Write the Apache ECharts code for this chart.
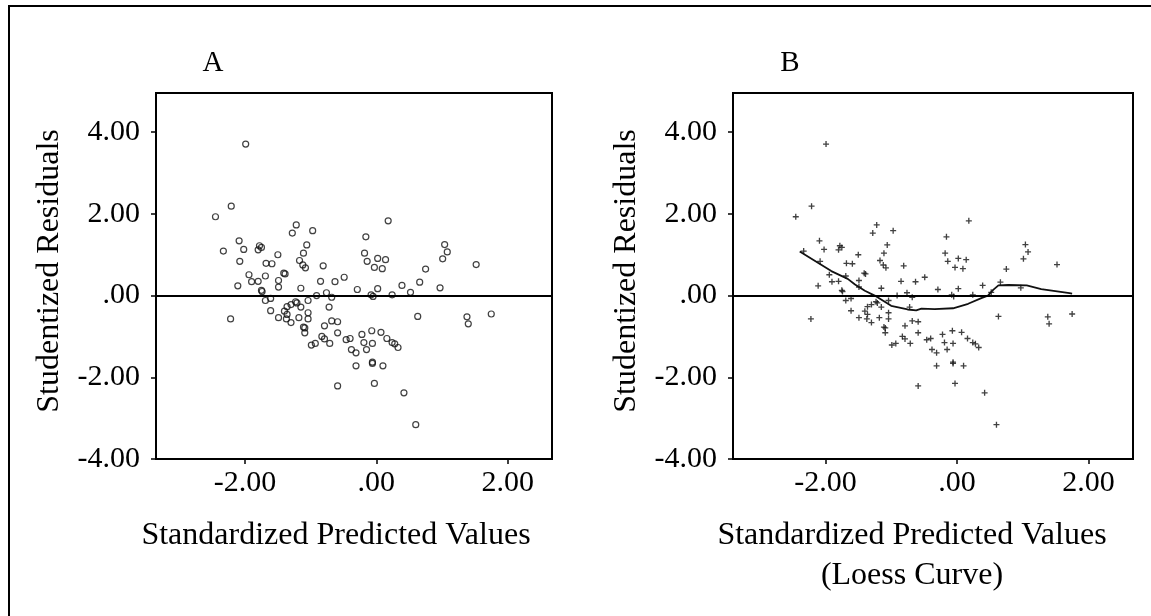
<!DOCTYPE html>
<html>
<head>
<meta charset="utf-8">
<script src="https://cdn.jsdelivr.net/npm/echarts@6/dist/echarts.min.js"></script>
<style>
  html, body { margin: 0; padding: 0; background: #fff; }
  #chart { width: 1151px; height: 616px; }
</style>
</head>
<body>
<div id="chart"></div>
<script>
// Standardized predicted values (x) and studentized residuals (y), one entry per case
const predicted = [
  -2.21, -2.45, -1.22, -1.28, -0.97, -2.09, -2.33, -2.02, -1.78, -1.75,
  -1.80, -1.06, -1.11, -1.50, -2.08, -1.68, -1.59, -1.17, -1.12, -1.08,
  -0.81, -1.94, -1.69, -1.41, -1.39, -1.90, -1.80, -1.49, -1.49, -2.11,
  -1.15, -0.85, -0.63, -1.75, -1.74, -0.91, -0.76, -0.68, -1.69, -1.61,
  -1.04, -1.23, -1.21, -1.30, -1.36, -1.15, -0.72, -1.61, -1.40, -1.36,
  -1.04, -1.49, -1.37, -1.18, -1.04, -1.30, -2.22, -0.68, -0.59, -1.11,
  -1.09, -0.79, -1.09, -0.83, -0.79, -0.71, -0.99, -0.93, -0.59, -0.59,
   0.18, -0.16, -0.18, -0.14,  0.02,  0.14, -0.03,  0.09,  1.04,  1.08,
   1.01,  0.75,  1.52, -0.49, -0.29,  0.02,  0.39,  0.66,  0.97,  0.52,
   0.24, -0.08, -0.05,  0.63,  1.38,  1.40, -0.46, -0.40, -0.22, -0.07,
   0.07,  0.16,  0.24,  0.28,  0.33, -0.19, -0.06, -0.38, -0.31, -0.15,
  -0.06, -0.06, -0.31,  0.10, -0.03,  0.42, -1.99,  1.75,  0.60
];
const residuals = [
   2.19,  1.93,  1.73,  1.53,  1.59,  1.34,  1.09,  1.13,  1.22,  1.18,
   1.12,  1.24,  1.04,  1.00,  0.84,  0.79,  0.78,  0.86,  0.75,  0.68,
   0.73,  0.51,  0.48,  0.55,  0.53,  0.34,  0.35,  0.37,  0.21,  0.24,
   0.18,  0.35,  0.34,  0.13,  0.10,  0.00,  0.07, -0.04, -0.12, -0.07,
  -0.12, -0.15, -0.18, -0.22, -0.27, -0.28, -0.28, -0.37, -0.38, -0.46,
  -0.42, -0.54, -0.57, -0.54, -0.57, -0.66, -0.57, -0.62, -0.64, -0.77,
  -0.79, -0.74, -0.91, -1.00, -1.06, -1.17, -1.21, -1.17, -0.91, -2.21,
   1.83,  1.44,  1.04,  0.84,  0.91,  0.88,  0.69,  0.66,  1.25,  1.07,
   0.90,  0.65,  0.76,  0.45,  0.15,  0.17,  0.25,  0.33,  0.19,  0.08,
   0.02,  0.02, -0.02, -0.51, -0.52, -0.69, -1.08, -1.05, -0.95, -0.86,
  -0.90, -1.05, -1.15, -1.18, -1.27, -1.15, -1.17, -1.32, -1.40, -1.32,
  -1.63, -1.66, -1.72, -1.72, -2.15, -2.38,  3.71, -0.45, -3.16
];

// Loess smooth of the residuals against the predicted values
const loessX = [-2.39, -1.91, -1.66, -1.55, -1.40, -1.25, -1.00, -0.75, -0.62, -0.54, -0.34,
                -0.06, 0.17, 0.37, 0.47, 0.55, 0.63, 0.78, 1.06, 1.28, 1.71, 1.75];
const loessY = [1.08, 0.60, 0.41, 0.27, 0.12, 0.00, -0.25, -0.34, -0.36, -0.32, -0.33,
                -0.31, -0.20, -0.06, 0.00, 0.14, 0.25, 0.26, 0.25, 0.16, 0.06, 0.05];

// Axis ticks and their printed labels
const yTicks = [-4, -2, 0, 2, 4];
const yTickLabels = ['-4.00', '-2.00', '.00', '2.00', '4.00'];
const xTicks = [-2, 0, 2];
const xTickLabels = ['-2.00', '.00', '2.00'];

const panelTitles = ['A', 'B'];
const yTitle = 'Studentized Residuals';
const xTitleA = 'Standardized Predicted Values';
const xTitleB = 'Standardized Predicted Values\n(Loess Curve)';

const FONT = '"Liberation Serif", "Times New Roman", serif';
const points = predicted.map((x, i) => [x, residuals[i]]);
const loess = loessX.map((x, i) => [x, loessY[i]]);

function labelFor(ticks, labels) {
  return v => {
    const i = ticks.findIndex(t => Math.abs(t - v) < 1e-9);
    return i >= 0 ? labels[i] : '';
  };
}

function xAxis(gridIndex, min) {
  return {
    type: 'value', gridIndex, min, max: 2.675,
    splitLine: { show: false },
    axisLine: { show: false, onZero: false },
    axisTick: { show: true, inside: false, length: 5, customValues: xTicks,
                lineStyle: { color: '#000', width: 1.5 } },
    axisLabel: { customValues: xTicks, formatter: labelFor(xTicks, xTickLabels),
                 margin: 9, color: '#000', fontFamily: FONT, fontSize: 30 }
  };
}
function yAxis(gridIndex) {
  return {
    type: 'value', gridIndex, min: -4, max: 4.96,
    splitLine: { show: false },
    axisLine: { show: false, onZero: false },
    axisTick: { show: true, inside: false, length: 5, customValues: yTicks,
                lineStyle: { color: '#000', width: 1.5 } },
    axisLabel: { customValues: yTicks, formatter: labelFor(yTicks, yTickLabels),
                 margin: 16, color: '#000', fontFamily: FONT, fontSize: 30 }
  };
}

const zeroLine = {
  silent: true, symbol: 'none', animation: false,
  label: { show: false },
  lineStyle: { color: '#000', width: 2, type: 'solid' },
  data: [{ yAxis: 0 }]
};

const plus = 'path://M-0.22,-1H0.22V-0.22H1V0.22H0.22V1H-0.22V0.22H-1V-0.22H-0.22Z';

const chart = echarts.init(document.getElementById('chart'), null, { renderer: 'canvas' });
chart.setOption({
  animation: false,
  backgroundColor: '#fff',
  grid: [
    { left: 156, top: 93, width: 396, height: 366, show: true, borderColor: '#000', borderWidth: 2, backgroundColor: 'transparent' },
    { left: 733, top: 93, width: 400, height: 366, show: true, borderColor: '#000', borderWidth: 2, backgroundColor: 'transparent' }
  ],
  xAxis: [xAxis(0, -3.356), xAxis(1, -3.404)],
  yAxis: [yAxis(0), yAxis(1)],
  series: [
    {
      type: 'scatter', xAxisIndex: 0, yAxisIndex: 0, data: points,
      symbol: 'circle', symbolSize: 6,
      itemStyle: { color: 'rgba(0,0,0,0)', borderColor: '#111', borderWidth: 1.2 },
      markLine: zeroLine, z: 3
    },
    {
      type: 'scatter', xAxisIndex: 1, yAxisIndex: 1, data: points,
      symbol: plus, symbolSize: 6,
      itemStyle: { color: '#111' },
      markLine: zeroLine, z: 3
    },
    {
      type: 'line', xAxisIndex: 1, yAxisIndex: 1, data: loess,
      showSymbol: false, symbol: 'none', smooth: false,
      lineStyle: { color: '#111', width: 1.8 }, z: 4
    }
  ],
  graphic: [
    { type: 'rect', shape: { x: 9, y: 6, width: 1200, height: 700 },
      style: { fill: 'none', stroke: '#000', lineWidth: 2 }, silent: true },
    { type: 'text', x: 213, y: 63, style: { text: panelTitles[0], font: '29px ' + FONT, fill: '#000', align: 'center', verticalAlign: 'middle' } },
    { type: 'text', x: 790, y: 63, style: { text: panelTitles[1], font: '29px ' + FONT, fill: '#000', align: 'center', verticalAlign: 'middle' } },
    { type: 'text', x: 50, y: 271, rotation: Math.PI / 2,
      style: { text: yTitle, font: '32px ' + FONT, fill: '#000', align: 'center', verticalAlign: 'middle' } },
    { type: 'text', x: 627, y: 271, rotation: Math.PI / 2,
      style: { text: yTitle, font: '32px ' + FONT, fill: '#000', align: 'center', verticalAlign: 'middle' } },
    { type: 'text', x: 336, y: 536, style: { text: xTitleA, font: '32px ' + FONT, fill: '#000', align: 'center', verticalAlign: 'middle' } },
    { type: 'text', x: 912, y: 556, style: { text: xTitleB, font: '32px ' + FONT, lineHeight: 40, fill: '#000', align: 'center', verticalAlign: 'middle' } }
  ]
});
</script>
</body>
</html>
